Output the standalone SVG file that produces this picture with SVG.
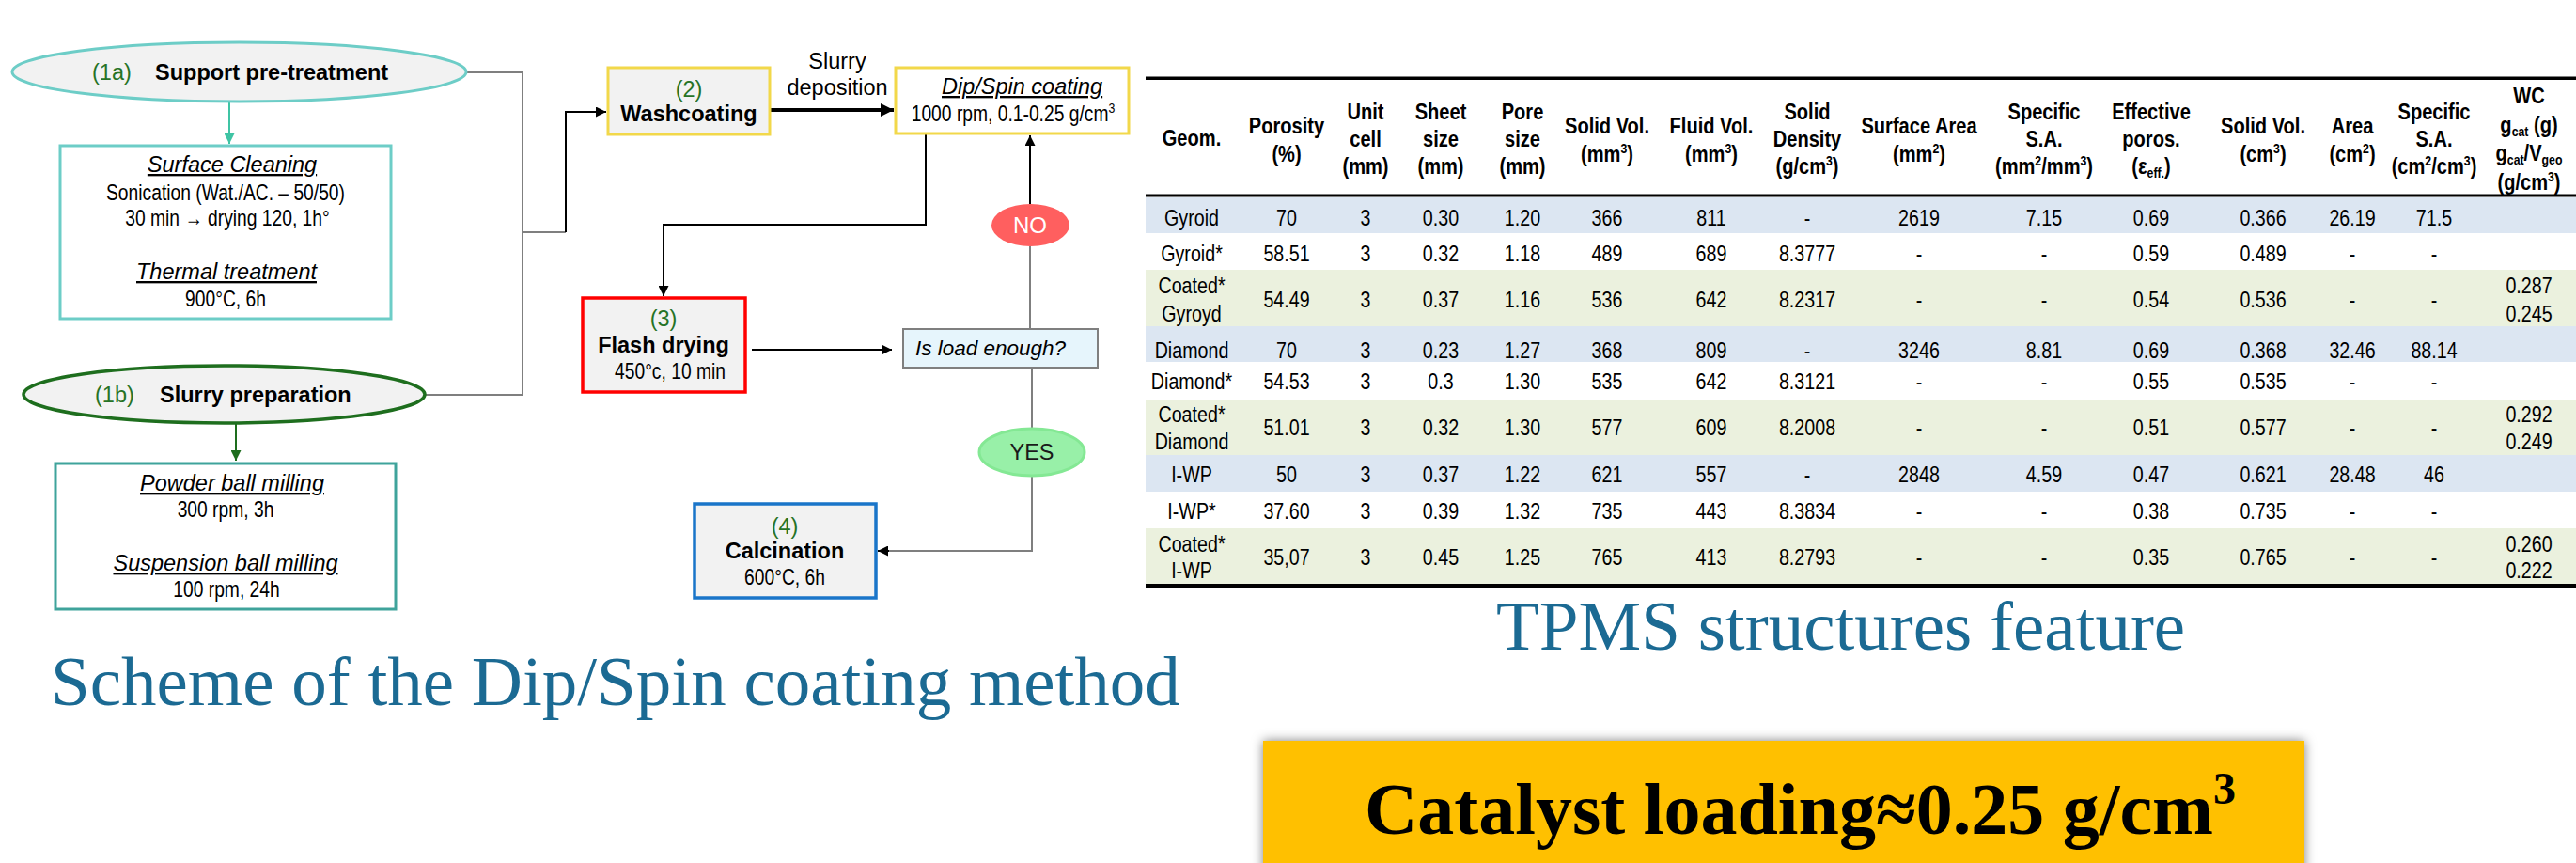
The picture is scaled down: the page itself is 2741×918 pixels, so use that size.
<svg xmlns="http://www.w3.org/2000/svg" width="2741" height="918" viewBox="0 0 2741 918">
<defs>
<style>
text{font-family:'Liberation Sans',Arial,Helvetica,sans-serif;fill:#000}
.t{font-size:23.5px}
.b{font-weight:bold}
.i{font-style:italic}
.u{text-decoration:underline}
.m{text-anchor:middle}
.g{fill:#267326}
.nr{font-size:23.5px;text-anchor:middle}
.th{font-size:24.5px;font-weight:bold;text-anchor:middle}
.td{font-size:24px;text-anchor:middle}
.cap{font-family:'Liberation Serif','Times New Roman',serif;font-size:75px;fill:#1b6a93}
.big{font-family:'Liberation Serif','Times New Roman',serif;font-size:78px;font-weight:bold;fill:#000}
.gray{fill:none;stroke:#7f7f7f;stroke-width:2}
.blk{fill:none;stroke:#000;stroke-width:2}
</style>
<marker id="ak" viewBox="0 0 10 10" refX="10" refY="5" markerWidth="11" markerHeight="11" markerUnits="userSpaceOnUse" orient="auto"><path d="M0,0 L10,5 L0,10 z" fill="#000"/></marker>
<marker id="akL" viewBox="0 0 10 10" refX="10" refY="5" markerWidth="14" markerHeight="14" markerUnits="userSpaceOnUse" orient="auto"><path d="M0,0 L10,5 L0,10 z" fill="#000"/></marker>
<marker id="aT" viewBox="0 0 10 10" refX="10" refY="5" markerWidth="11" markerHeight="11" markerUnits="userSpaceOnUse" orient="auto"><path d="M0,0 L10,5 L0,10 z" fill="#3fc4a4"/></marker>
<marker id="aG" viewBox="0 0 10 10" refX="10" refY="5" markerWidth="11" markerHeight="11" markerUnits="userSpaceOnUse" orient="auto"><path d="M0,0 L10,5 L0,10 z" fill="#1e6e1e"/></marker>
<filter id="sh" x="-5%" y="-20%" width="110%" height="140%"><feDropShadow dx="0" dy="0" stdDeviation="6" flood-color="#000" flood-opacity="0.5"/></filter>
</defs>
<rect x="0" y="0" width="2741" height="918" fill="#fff"/>

<!-- connectors of the process scheme -->
<g id="connectors">
  <line x1="244" y1="108" x2="244" y2="153" stroke="#3fc4a4" stroke-width="2" marker-end="url(#aT)"/>
  <line x1="251" y1="451" x2="251" y2="490" stroke="#1e6e1e" stroke-width="2" marker-end="url(#aG)"/>
  <polyline class="gray" points="496,77 556,77 556,420 452,420"/>
  <line class="gray" x1="556" y1="247" x2="602" y2="247"/>
  <polyline class="blk" points="602,247 602,119 645,119" marker-end="url(#ak)"/>
  <line x1="819" y1="117" x2="951" y2="117" stroke="#000" stroke-width="4" marker-end="url(#akL)"/>
  <polyline class="blk" points="985,143 985,239 706,239 706,315" marker-end="url(#ak)"/>
  <line class="blk" x1="800" y1="372" x2="949" y2="372" marker-end="url(#ak)"/>
  <line class="gray" x1="1098" y1="391" x2="1098" y2="455"/>
  <polyline class="gray" points="1098,507 1098,586 944,586"/>
  <line class="blk" x1="946" y1="586" x2="934" y2="586" marker-end="url(#ak)"/>
  <line class="gray" x1="1096" y1="262" x2="1096" y2="350"/>
  <line class="blk" x1="1096" y1="217" x2="1096" y2="144" marker-end="url(#ak)"/>
</g>

<!-- process scheme nodes -->
<g id="n1a">
  <ellipse cx="254.5" cy="76.5" rx="241.5" ry="31.5" fill="#f2f2f2" stroke="#6dcdc7" stroke-width="3"/>
  <text x="98" y="85" class="t g">(1a)</text>
  <text x="165" y="85" class="t b">Support pre-treatment</text>
</g>
<g id="box1">
  <rect x="64" y="155" width="352" height="184" fill="#fff" stroke="#6dcdc7" stroke-width="3"/>
  <text x="247" y="183" class="t i u m">Surface Cleaning</text>
  <text class="nr" transform="translate(240 213) scale(.82 1)">Sonication (Wat./AC. – 50/50)</text>
  <text class="nr" transform="translate(242 240) scale(.82 1)">30 min <tspan font-weight="bold">→</tspan> drying 120, 1h°</text>
  <text x="241" y="297" class="t i u m">Thermal treatment</text>
  <text class="nr" transform="translate(240 326) scale(.82 1)">900°C, 6h</text>
</g>
<g id="n1b">
  <ellipse cx="238.5" cy="419.5" rx="213.5" ry="30.5" fill="#f2f2f2" stroke="#1e6e1e" stroke-width="3.5"/>
  <text x="101" y="428" class="t g">(1b)</text>
  <text x="170" y="428" class="t b">Slurry preparation</text>
</g>
<g id="box2">
  <rect x="59" y="493" width="362" height="155" fill="#fff" stroke="#3fa39b" stroke-width="3"/>
  <text x="247" y="522" class="t i u m">Powder ball milling</text>
  <text class="nr" transform="translate(240 550) scale(.82 1)">300 rpm, 3h</text>
  <text x="240" y="607" class="t i u m">Suspension ball milling</text>
  <text class="nr" transform="translate(241 635) scale(.82 1)">100 rpm, 24h</text>
</g>
<g id="n2">
  <rect x="647" y="72" width="172" height="71" fill="#f2f2f2" stroke="#f2d84a" stroke-width="3"/>
  <text x="733" y="103" class="t g m">(2)</text>
  <text x="733" y="129" class="t b m">Washcoating</text>
</g>
<g id="lbl-slurry">
  <text x="891" y="73" class="t m">Slurry</text>
  <text x="891" y="101" class="t m">deposition</text>
</g>
<g id="n-dip">
  <rect x="953" y="72" width="248" height="70" fill="#fff" stroke="#f2d84a" stroke-width="3"/>
  <text x="1002" y="100" class="t i u">Dip/Spin coating</text>
  <text class="nr" transform="translate(1078 129) scale(.82 1)">1000 rpm, 0.1-0.25 g/cm<tspan font-size="15" dy="-9">3</tspan></text>
</g>
<g id="n3">
  <rect x="620" y="317" width="173" height="100" fill="#f2f2f2" stroke="#ff0000" stroke-width="3.5"/>
  <text x="706" y="347" class="t g m">(3)</text>
  <text x="706" y="375" class="t b m">Flash drying</text>
  <text class="nr" transform="translate(713 403) scale(.82 1)">450°c, 10 min</text>
</g>
<g id="n-check">
  <rect x="961" y="350" width="207" height="41" fill="#e6f5fc" stroke="#7f7f7f" stroke-width="2"/>
  <text x="974" y="378" class="i" font-size="22.5">Is load enough?</text>
</g>
<g id="n-no">
  <ellipse cx="1096.5" cy="239.5" rx="41.5" ry="22.5" fill="#ff5f5f"/>
  <text x="1096" y="248" class="m" font-size="24" style="fill:#fff">NO</text>
</g>
<g id="n-yes">
  <ellipse cx="1098" cy="481" rx="56" ry="25" fill="#98f0a8" stroke="#84e894" stroke-width="3"/>
  <text x="1098" y="489" class="t m" style="fill:#1a1a1a">YES</text>
</g>
<g id="n4">
  <rect x="739" y="536" width="193" height="100" fill="#f2f2f2" stroke="#1a75c9" stroke-width="3.5"/>
  <text x="835" y="568" class="t g m">(4)</text>
  <text x="835" y="594" class="t b m">Calcination</text>
  <text class="nr" transform="translate(835 622) scale(.82 1)">600°C, 6h</text>
</g>

<text id="cap-scheme" x="54" y="750" class="cap">Scheme of the Dip/Spin coating method</text>

<!-- TPMS feature table -->
<g id="table">
  <rect x="1219" y="210" width="1522" height="38" fill="#dce6f2"/>
  <rect x="1219" y="287" width="1522" height="60" fill="#ebf1de"/>
  <rect x="1219" y="347" width="1522" height="38" fill="#dce6f2"/>
  <rect x="1219" y="425" width="1522" height="59" fill="#ebf1de"/>
  <rect x="1219" y="484" width="1522" height="39" fill="#dce6f2"/>
  <rect x="1219" y="562" width="1522" height="60" fill="#ebf1de"/>
  <rect x="1219" y="81.5" width="1522" height="3.5" fill="#000"/>
  <rect x="1219" y="206.5" width="1522" height="3" fill="#000"/>
  <rect x="1219" y="621" width="1522" height="4" fill="#000"/>

  <g id="col-geom" transform="translate(1268 0) scale(.82 1)">
    <text class="th" y="155">Geom.</text>
    <text class="td" y="240">Gyroid</text>
    <text class="td" y="278">Gyroid*</text>
    <text class="td" y="312">Coated*</text><text class="td" y="342">Gyroyd</text>
    <text class="td" y="381">Diamond</text>
    <text class="td" y="414">Diamond*</text>
    <text class="td" y="449">Coated*</text><text class="td" y="478">Diamond</text>
    <text class="td" y="513">I-WP</text>
    <text class="td" y="552">I-WP*</text>
    <text class="td" y="587">Coated*</text><text class="td" y="615">I-WP</text>
  </g>
  <g id="col-porosity" transform="translate(1369 0) scale(.82 1)">
    <text class="th" y="142">Porosity</text><text class="th" y="172">(%)</text>
    <text class="td" y="240">70</text><text class="td" y="278">58.51</text><text class="td" y="327">54.49</text>
    <text class="td" y="381">70</text><text class="td" y="414">54.53</text><text class="td" y="463">51.01</text>
    <text class="td" y="513">50</text><text class="td" y="552">37.60</text><text class="td" y="601">35,07</text>
  </g>
  <g id="col-cell" transform="translate(1453 0) scale(.82 1)">
    <text class="th" y="127">Unit</text><text class="th" y="156">cell</text><text class="th" y="185">(mm)</text>
    <text class="td" y="240">3</text><text class="td" y="278">3</text><text class="td" y="327">3</text>
    <text class="td" y="381">3</text><text class="td" y="414">3</text><text class="td" y="463">3</text>
    <text class="td" y="513">3</text><text class="td" y="552">3</text><text class="td" y="601">3</text>
  </g>
  <g id="col-sheet" transform="translate(1533 0) scale(.82 1)">
    <text class="th" y="127">Sheet</text><text class="th" y="156">size</text><text class="th" y="185">(mm)</text>
    <text class="td" y="240">0.30</text><text class="td" y="278">0.32</text><text class="td" y="327">0.37</text>
    <text class="td" y="381">0.23</text><text class="td" y="414">0.3</text><text class="td" y="463">0.32</text>
    <text class="td" y="513">0.37</text><text class="td" y="552">0.39</text><text class="td" y="601">0.45</text>
  </g>
  <g id="col-pore" transform="translate(1620 0) scale(.82 1)">
    <text class="th" y="127">Pore</text><text class="th" y="156">size</text><text class="th" y="185">(mm)</text>
    <text class="td" y="240">1.20</text><text class="td" y="278">1.18</text><text class="td" y="327">1.16</text>
    <text class="td" y="381">1.27</text><text class="td" y="414">1.30</text><text class="td" y="463">1.30</text>
    <text class="td" y="513">1.22</text><text class="td" y="552">1.32</text><text class="td" y="601">1.25</text>
  </g>
  <g id="col-solid-mm" transform="translate(1710 0) scale(.82 1)">
    <text class="th" y="142">Solid Vol.</text><text class="th" y="172">(mm<tspan font-size="15" dy="-9">3</tspan><tspan dy="9">)</tspan></text>
    <text class="td" y="240">366</text><text class="td" y="278">489</text><text class="td" y="327">536</text>
    <text class="td" y="381">368</text><text class="td" y="414">535</text><text class="td" y="463">577</text>
    <text class="td" y="513">621</text><text class="td" y="552">735</text><text class="td" y="601">765</text>
  </g>
  <g id="col-fluid" transform="translate(1821 0) scale(.82 1)">
    <text class="th" y="142">Fluid Vol.</text><text class="th" y="172">(mm<tspan font-size="15" dy="-9">3</tspan><tspan dy="9">)</tspan></text>
    <text class="td" y="240">811</text><text class="td" y="278">689</text><text class="td" y="327">642</text>
    <text class="td" y="381">809</text><text class="td" y="414">642</text><text class="td" y="463">609</text>
    <text class="td" y="513">557</text><text class="td" y="552">443</text><text class="td" y="601">413</text>
  </g>
  <g id="col-density" transform="translate(1923 0) scale(.82 1)">
    <text class="th" y="127">Solid</text><text class="th" y="156">Density</text><text class="th" y="185">(g/cm<tspan font-size="15" dy="-9">3</tspan><tspan dy="9">)</tspan></text>
    <text class="td" y="240">-</text><text class="td" y="278">8.3777</text><text class="td" y="327">8.2317</text>
    <text class="td" y="381">-</text><text class="td" y="414">8.3121</text><text class="td" y="463">8.2008</text>
    <text class="td" y="513">-</text><text class="td" y="552">8.3834</text><text class="td" y="601">8.2793</text>
  </g>
  <g id="col-area-mm" transform="translate(2042 0) scale(.82 1)">
    <text class="th" y="142">Surface Area</text><text class="th" y="172">(mm<tspan font-size="15" dy="-9">2</tspan><tspan dy="9">)</tspan></text>
    <text class="td" y="240">2619</text><text class="td" y="278">-</text><text class="td" y="327">-</text>
    <text class="td" y="381">3246</text><text class="td" y="414">-</text><text class="td" y="463">-</text>
    <text class="td" y="513">2848</text><text class="td" y="552">-</text><text class="td" y="601">-</text>
  </g>
  <g id="col-ssa-mm" transform="translate(2175 0) scale(.82 1)">
    <text class="th" y="127">Specific</text><text class="th" y="156">S.A.</text><text class="th" y="185">(mm<tspan font-size="15" dy="-9">2</tspan><tspan dy="9">/mm</tspan><tspan font-size="15" dy="-9">3</tspan><tspan dy="9">)</tspan></text>
    <text class="td" y="240">7.15</text><text class="td" y="278">-</text><text class="td" y="327">-</text>
    <text class="td" y="381">8.81</text><text class="td" y="414">-</text><text class="td" y="463">-</text>
    <text class="td" y="513">4.59</text><text class="td" y="552">-</text><text class="td" y="601">-</text>
  </g>
  <g id="col-eff" transform="translate(2289 0) scale(.82 1)">
    <text class="th" y="127">Effective</text><text class="th" y="156">poros.</text><text class="th" y="185">(ε<tspan font-size="15" dy="4">eff.</tspan><tspan dy="-4">)</tspan></text>
    <text class="td" y="240">0.69</text><text class="td" y="278">0.59</text><text class="td" y="327">0.54</text>
    <text class="td" y="381">0.69</text><text class="td" y="414">0.55</text><text class="td" y="463">0.51</text>
    <text class="td" y="513">0.47</text><text class="td" y="552">0.38</text><text class="td" y="601">0.35</text>
  </g>
  <g id="col-solid-cm" transform="translate(2408 0) scale(.82 1)">
    <text class="th" y="142">Solid Vol.</text><text class="th" y="172">(cm<tspan font-size="15" dy="-9">3</tspan><tspan dy="9">)</tspan></text>
    <text class="td" y="240">0.366</text><text class="td" y="278">0.489</text><text class="td" y="327">0.536</text>
    <text class="td" y="381">0.368</text><text class="td" y="414">0.535</text><text class="td" y="463">0.577</text>
    <text class="td" y="513">0.621</text><text class="td" y="552">0.735</text><text class="td" y="601">0.765</text>
  </g>
  <g id="col-area-cm" transform="translate(2503 0) scale(.82 1)">
    <text class="th" y="142">Area</text><text class="th" y="172">(cm<tspan font-size="15" dy="-9">2</tspan><tspan dy="9">)</tspan></text>
    <text class="td" y="240">26.19</text><text class="td" y="278">-</text><text class="td" y="327">-</text>
    <text class="td" y="381">32.46</text><text class="td" y="414">-</text><text class="td" y="463">-</text>
    <text class="td" y="513">28.48</text><text class="td" y="552">-</text><text class="td" y="601">-</text>
  </g>
  <g id="col-ssa-cm" transform="translate(2590 0) scale(.82 1)">
    <text class="th" y="127">Specific</text><text class="th" y="156">S.A.</text><text class="th" y="185">(cm<tspan font-size="15" dy="-9">2</tspan><tspan dy="9">/cm</tspan><tspan font-size="15" dy="-9">3</tspan><tspan dy="9">)</tspan></text>
    <text class="td" y="240">71.5</text><text class="td" y="278">-</text><text class="td" y="327">-</text>
    <text class="td" y="381">88.14</text><text class="td" y="414">-</text><text class="td" y="463">-</text>
    <text class="td" y="513">46</text><text class="td" y="552">-</text><text class="td" y="601">-</text>
  </g>
  <g id="col-wc" transform="translate(2691 0) scale(.82 1)">
    <text class="th" y="110">WC</text>
    <text class="th" y="141">g<tspan font-size="15" dy="4">cat</tspan><tspan dy="-4"> (g)</tspan></text>
    <text class="th" y="171">g<tspan font-size="15" dy="4">cat</tspan><tspan dy="-4">/V</tspan><tspan font-size="15" dy="4">geo</tspan></text>
    <text class="th" y="202">(g/cm<tspan font-size="15" dy="-9">3</tspan><tspan dy="9">)</tspan></text>
    <text class="td" y="312">0.287</text><text class="td" y="342">0.245</text>
    <text class="td" y="449">0.292</text><text class="td" y="478">0.249</text>
    <text class="td" y="587">0.260</text><text class="td" y="615">0.222</text>
  </g>
</g>

<text id="cap-tpms" x="1592" y="691" class="cap">TPMS structures feature</text>

<g id="loading">
  <rect x="1344" y="788" width="1108" height="150" fill="#ffc000" filter="url(#sh)"/>
  <text x="1452" y="887" class="big">Catalyst loading≈0.25 g/cm<tspan font-size="48" dy="-32">3</tspan></text>
</g>
</svg>
